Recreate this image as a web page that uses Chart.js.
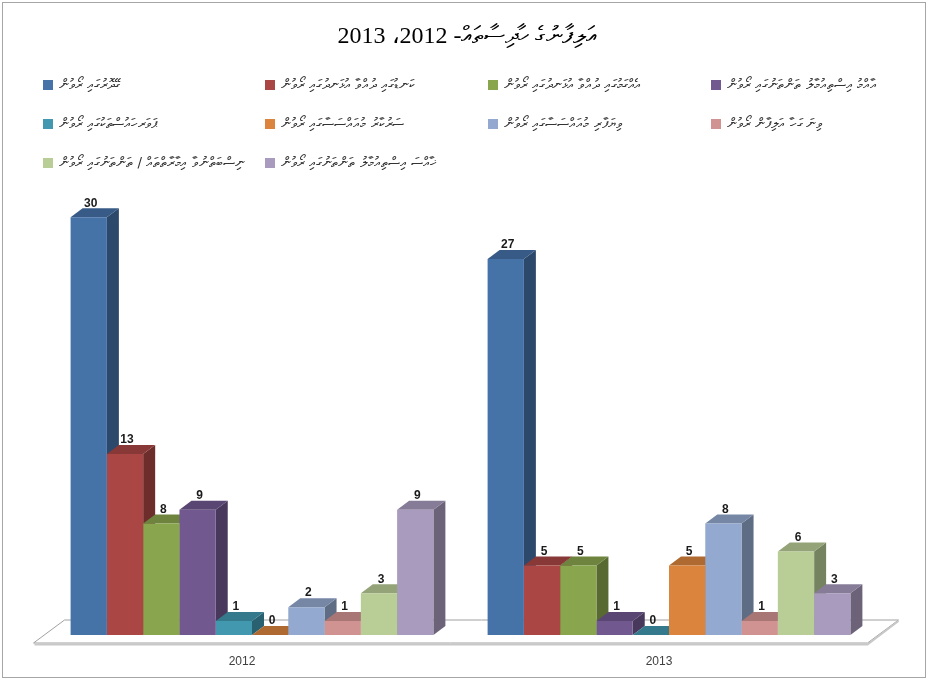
<!DOCTYPE html>
<html>
<head>
<meta charset="utf-8">
<script src="https://cdn.jsdelivr.net/npm/chart.js@4.4.1/dist/chart.umd.min.js"></script>
<style>
  html, body { margin: 0; padding: 0; background: #fff; }
  #frame {
    position: absolute; left: 2px; top: 2px; width: 924px; height: 676px;
    border: 1px solid #a6a6a6; box-sizing: border-box;
  }
  #title {
    position: absolute; left: 0; top: 21px; width: 934px; text-align: center;
    font: 24px 'Liberation Serif', serif; color: #000; direction: rtl;
  }
  #legend { position: absolute; left: 0; top: 0; }
  .lg {
    position: absolute; display: flex; align-items: center; white-space: nowrap;
    font: 13.5px 'DejaVu Sans', 'Noto Sans', sans-serif; color: #333;
  }
  .lg i { display: inline-block; width: 10px; height: 10px; margin-right: 6px; }
  .lg span { direction: rtl; unicode-bidi: embed; }
  canvas { position: absolute; left: 0; top: 0; }
</style>
</head>
<body>
<div id="frame"></div>
<canvas id="chart" width="940" height="680"></canvas>
<div id="title">އަލިފާނުގެ ހާދިސާތައް- 2012، 2013</div>
<div id="legend"></div>

<script>
/* ── Data ─────────────────────────────────────────────────── */
const categories = ['2012', '2013'];

const seriesLabels = [
  'ގޭދޮރުގައި ރޯވުން',
  'ކަނޑުގައި ދުއްވާ އުޅަނދުގައި ރޯވުން',
  'އެއްގަމުގައި ދުއްވާ އުޅަނދުގައި ރޯވުން',
  'އާއްމު އިސްތިއުމާލު ތަންތަނުގައި ރޯވުން',
  'ޕަވަރހައުސްތަކުގައި ރޯވުން',
  'ސަރުކާރު މުއައްސަސާގައި ރޯވުން',
  'ވިޔަފާރި މުއައްސަސާގައި ރޯވުން',
  'ވިނަ ގަހާ އަލިފާން ރޯވުން',
  'ނިސްބަތްނުވާ އިމާރާތްތައް / ތަންތަނުގައި ރޯވުން',
  'ޚާއްސަ އިސްތިއުމާލު ތަންތަނުގައި ރޯވުން',
];

const values2012 = [30, 13, 8, 9, 1, 0, 2, 1, 3, 9];
const values2013 = [27, 5, 5, 1, 0, 5, 8, 1, 6, 3];

const seriesColors = [
  '#4572a7', '#aa4643', '#89a54e', '#71588f', '#4198af',
  '#db843d', '#93a9cf', '#d19392', '#b9cd96', '#a99bbd',
];

/* ── Helpers ──────────────────────────────────────────────── */
const DEPTH_X = 12;
const DEPTH_Y = 9;

function shade(hex, f) {
  const n = parseInt(hex.slice(1), 16);
  const r = Math.round(((n >> 16) & 255) * f);
  const g = Math.round(((n >> 8) & 255) * f);
  const b = Math.round((n & 255) * f);
  return `rgb(${r},${g},${b})`;
}

/* ── Legend (HTML, 4 columns) ─────────────────────────────── */
const legendCols = [43, 265, 488, 711];
const legendRows = [86, 125, 164];
const legendEl = document.getElementById('legend');
seriesLabels.forEach((label, i) => {
  const item = document.createElement('div');
  item.className = 'lg';
  item.style.left = legendCols[i % 4] + 'px';
  item.style.top = (legendRows[Math.floor(i / 4)] - 10) + 'px';
  item.innerHTML = `<i style="background:${seriesColors[i]}"></i><span>${label}</span>`;
  legendEl.appendChild(item);
});

/* ── 3D faces + floor + value labels ──────────────────────── */
const bar3d = {
  id: 'bar3d',
  beforeDatasetsDraw(chart) {
    const { ctx, chartArea } = chart;
    const base = chart.scales.y.getPixelForValue(0);

    // floor plate
    const fy = base + 8, by = base - 15;
    const fl = chartArea.left - 10, fr = chartArea.right - 10;
    const off = 31;
    ctx.save();
    ctx.fillStyle = '#ffffff';
    ctx.strokeStyle = '#a0a0a0';
    ctx.lineWidth = 1;
    ctx.beginPath();
    ctx.moveTo(fl, fy);
    ctx.lineTo(fr, fy);
    ctx.lineTo(fr + off, by);
    ctx.lineTo(fl + off, by);
    ctx.closePath();
    ctx.fill();
    ctx.stroke();
    ctx.strokeStyle = '#c8c8c8';
    ctx.lineWidth = 2;
    ctx.beginPath();
    ctx.moveTo(fl + 1, fy + 1.5);
    ctx.lineTo(fr, fy + 1.5);
    ctx.lineTo(fr + off, by + 1);
    ctx.stroke();

    const metas = chart.data.datasets.map((d, i) => chart.getDatasetMeta(i));

    // side faces first
    metas.forEach((meta, i) => {
      meta.data.forEach((bar) => {
        const { x, y, width } = bar.getProps(['x', 'y', 'width'], true);
        const r = x + width / 2;
        ctx.fillStyle = shade(seriesColors[i], 0.64);
        ctx.beginPath();
        ctx.moveTo(r, y);
        ctx.lineTo(r + DEPTH_X, y - DEPTH_Y);
        ctx.lineTo(r + DEPTH_X, base - DEPTH_Y);
        ctx.lineTo(r, base);
        ctx.closePath();
        ctx.fill();
      });
    });

    // then top faces
    metas.forEach((meta, i) => {
      meta.data.forEach((bar) => {
        const { x, y, width } = bar.getProps(['x', 'y', 'width'], true);
        const l = x - width / 2, r = x + width / 2;
        ctx.fillStyle = shade(seriesColors[i], 0.8);
        ctx.beginPath();
        ctx.moveTo(l, y);
        ctx.lineTo(r, y);
        ctx.lineTo(r + DEPTH_X, y - DEPTH_Y);
        ctx.lineTo(l + DEPTH_X, y - DEPTH_Y);
        ctx.closePath();
        ctx.fill();
      });
    });
    ctx.restore();
  },

  afterDatasetsDraw(chart) {
    const { ctx } = chart;
    ctx.save();
    ctx.font = "bold 12px 'Liberation Sans', sans-serif";
    ctx.fillStyle = '#1a1a1a';
    ctx.textAlign = 'center';
    ctx.textBaseline = 'middle';
    chart.data.datasets.forEach((ds, i) => {
      chart.getDatasetMeta(i).data.forEach((bar, j) => {
        const { x, y } = bar.getProps(['x', 'y'], true);
        ctx.fillText(String(ds.data[j]), x + 2, y - 14);
      });
    });
    ctx.restore();
  },
};

/* ── Chart ────────────────────────────────────────────────── */
new Chart(document.getElementById('chart'), {
  type: 'bar',
  data: {
    labels: categories,
    datasets: seriesLabels.map((label, i) => ({
      label,
      data: [values2012[i], values2013[i]],
      backgroundColor: seriesColors[i],
      borderWidth: 0,
      categoryPercentage: 0.87,
      barPercentage: 1.0,
    })),
  },
  options: {
    responsive: false,
    animation: false,
    devicePixelRatio: 1,
    layout: { padding: { left: 43.5, right: 62.5, top: 78, bottom: 0 } },
    plugins: {
      legend: { display: false },
      tooltip: { enabled: false },
    },
    scales: {
      x: {
        grid: { display: false, drawTicks: false },
        border: { display: false },
        ticks: {
          color: '#404040',
          font: { family: "'Liberation Sans', sans-serif", size: 12 },
          padding: 19,
          labelOffset: -10,
        },
        afterFit: (s) => { s.height = 45; },
      },
      y: {
        display: false,
        min: 0,
        max: 40,
      },
    },
  },
  plugins: [bar3d],
});
</script>
</body>
</html>
